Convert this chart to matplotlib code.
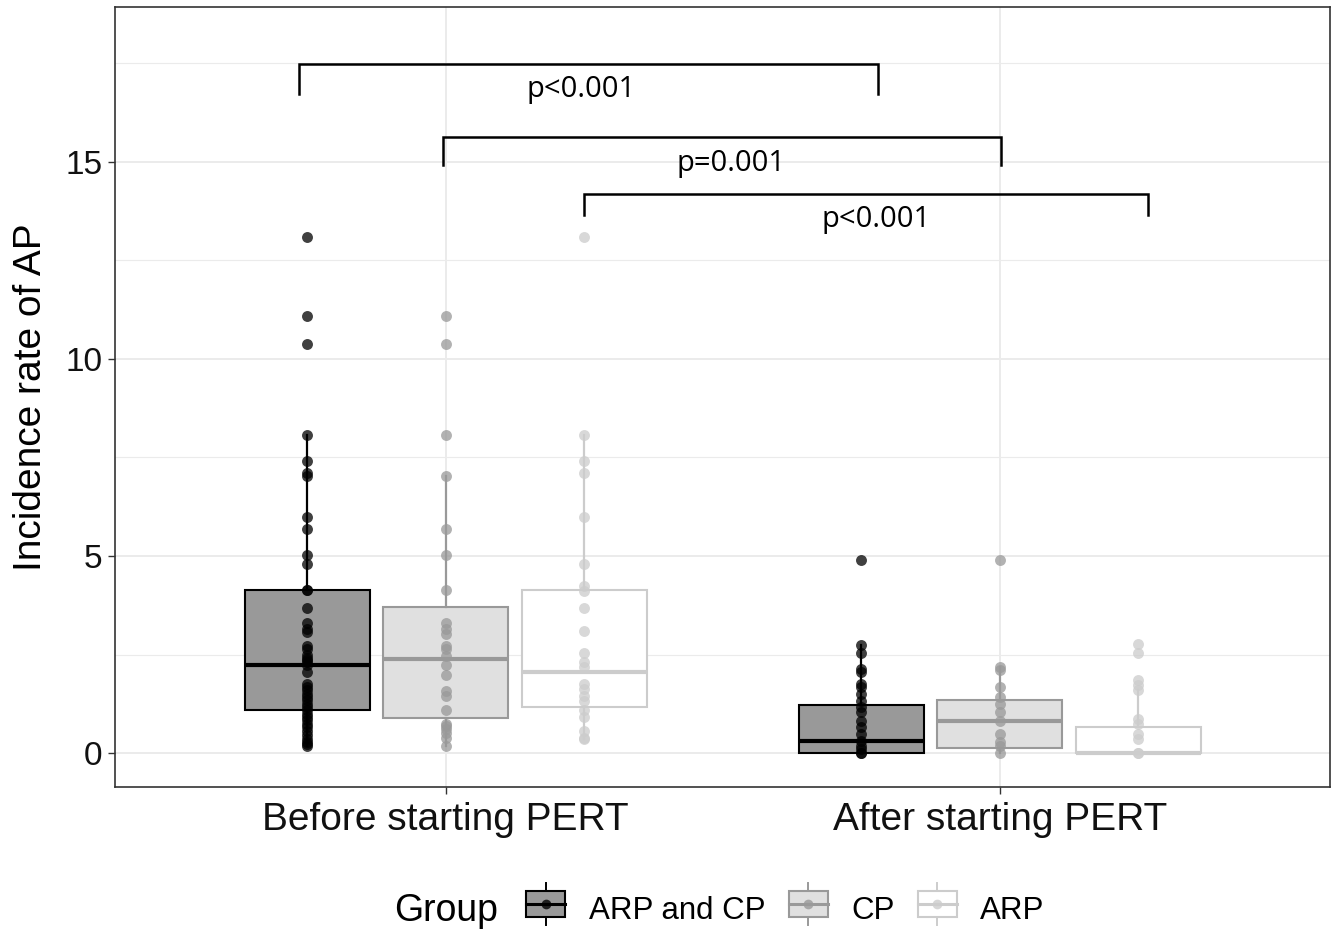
import matplotlib
matplotlib.use("Agg")
import matplotlib.pyplot as plt
from matplotlib.legend_handler import HandlerBase
from matplotlib.patches import Rectangle
from matplotlib.lines import Line2D
import numpy as np

plt.rcParams['font.family'] = ['Liberation Sans', 'DejaVu Sans']

periods = ["Before starting PERT", "After starting PERT"]
groups = ["ARP and CP", "CP", "ARP"]

# raw points, per (period, group)
pts_before_arpcp = [13.1, 11.08, 10.38, 8.06, 7.41, 7.1, 7.04, 5.99, 5.68, 5.03, 4.81,
                    4.15, 4.15, 3.68, 3.29, 3.16, 3.07, 2.72, 2.63, 2.5, 2.42, 2.35, 2.3,
                    2.24, 2.06, 1.75, 1.68, 1.6, 1.5, 1.42, 1.35, 1.25, 1.17, 1.1, 1.0,
                    0.92, 0.85, 0.75, 0.65, 0.55, 0.45, 0.35, 0.28, 0.22, 0.18]
pts_before_cp = [11.08, 10.38, 8.06, 7.04, 5.68, 5.03, 4.15, 3.29, 3.16, 3.03, 2.72,
                 2.63, 2.46, 2.24, 1.99, 1.58, 1.45, 1.10, 0.75, 0.68, 0.61, 0.5, 0.39, 0.18]
pts_before_arp = [13.1, 8.06, 7.41, 7.1, 5.99, 4.81, 4.25, 4.12, 3.68, 3.11, 2.54, 2.32,
                  2.19, 1.75, 1.62, 1.45, 1.32, 1.10, 0.92, 0.57, 0.39, 0.35]
pts_after_arpcp = [4.89, 2.74, 2.54, 2.14, 2.06, 1.76, 1.68, 1.5, 1.33, 1.16, 1.04, 0.82,
                   0.65, 0.48, 0.31, 0.19, 0.1, 0.0, 0.0]
pts_after_cp = [4.89, 2.19, 2.1, 1.68, 1.42, 1.25, 1.04, 0.82, 0.48, 0.27, 0.19, 0.0]
pts_after_arp = [2.76, 2.54, 1.85, 1.72, 1.59, 0.87, 0.74, 0.48, 0.36, 0.0, 0.0]

# box stats (whisker low, q1, median, q3, whisker high)
box_before_arpcp = [0.18, 1.10, 2.24, 4.15, 8.06]
box_before_cp = [0.18, 0.90, 2.39, 3.70, 7.04]
box_before_arp = [0.35, 1.17, 2.06, 4.15, 8.06]
box_after_arpcp = [0.0, 0.0, 0.31, 1.22, 2.74]
box_after_cp = [0.0, 0.14, 0.81, 1.35, 2.19]
box_after_arp = [0.0, 0.0, 0.0, 0.65, 1.59]

points = {
    "ARP and CP": [pts_before_arpcp, pts_after_arpcp],
    "CP": [pts_before_cp, pts_after_cp],
    "ARP": [pts_before_arp, pts_after_arp],
}
boxes = {
    "ARP and CP": [box_before_arpcp, box_after_arpcp],
    "CP": [box_before_cp, box_after_cp],
    "ARP": [box_before_arp, box_after_arp],
}

# significance brackets
brk_left = [0.736, 0.995, 1.249]
brk_right = [1.78, 2.002, 2.267]
brk_top = [17.49, 15.63, 14.19]
brk_tip = [16.72, 14.92, 13.65]
brk_label = ["p<0.001", "p=0.001", "p<0.001"]
brk_label_x = [1.245, 1.515, 1.776]
brk_label_y = [16.83, 14.97, 13.53]

fills = {"ARP and CP": "#999999", "CP": "#e0e0e0", "ARP": "#ffffff"}
edges = {"ARP and CP": "#000000", "CP": "#999999", "ARP": "#cccccc"}
dots = {"ARP and CP": "#000000", "CP": "#999999", "ARP": "#cccccc"}

dodge = {"ARP and CP": -0.25, "CP": 0.0, "ARP": 0.25}
width = 0.225

fig = plt.figure(figsize=(13.42, 9.34), dpi=100)
ax = fig.add_axes([0.0857, 0.1574, 0.9053, 0.8351])

for g in groups:
    stats = []
    for b in boxes[g]:
        lo, q1, med, q3, hi = b
        stats.append(dict(whislo=lo, q1=q1, med=med, q3=q3, whishi=hi))
    pos = [i + 1 + dodge[g] for i in range(len(periods))]
    ax.bxp(stats, positions=pos, widths=width, patch_artist=True,
           showfliers=False, showcaps=False,
           boxprops=dict(facecolor=fills[g], edgecolor=edges[g], linewidth=1.5),
           whiskerprops=dict(color=edges[g], linewidth=1.6),
           medianprops=dict(color=edges[g], linewidth=3.0, solid_capstyle='butt'),
           zorder=2)
    for i, vals in enumerate(points[g]):
        ax.scatter(np.full(len(vals), pos[i]), vals, s=62, color=dots[g],
                   alpha=0.75, linewidths=0, zorder=3)

for xl, xr, yt, yb, lab, lx, ly in zip(brk_left, brk_right, brk_top, brk_tip,
                                       brk_label, brk_label_x, brk_label_y):
    ax.plot([xl, xl, xr, xr], [yb, yt, yt, yb], color="black", lw=1.8,
            solid_joinstyle='miter', zorder=4)
    ax.text(lx, ly, lab, ha="center", va="center", fontsize=21,
            family=["Open Sans", "DejaVu Sans"], zorder=5)

ax.set_xlim(0.403, 2.596)
ax.set_ylim(-0.86, 18.93)
ax.set_xticks([1, 2])
ax.set_xticklabels(periods)
ax.set_yticks([0, 5, 10, 15])
ax.set_yticks([2.5, 7.5, 12.5, 17.5], minor=True)
ax.grid(which="major", color="#ebebeb", lw=1.4, zorder=0)
ax.grid(which="minor", axis="y", color="#ebebeb", lw=0.8, zorder=0)
ax.set_axisbelow(True)
ax.tick_params(axis="both", which="major", labelsize=24, length=5, width=1,
               color="#333333", labelcolor="#111111", pad=4)
ax.tick_params(axis="x", labelsize=28, pad=6)
ax.tick_params(which="minor", length=0)
for s in ax.spines.values():
    s.set_color("#333333")
    s.set_linewidth(1.2)
ax.set_ylabel("Incidence rate of AP", fontsize=28, labelpad=12)


class BoxKey(HandlerBase):
    def __init__(self, face, edge):
        super().__init__()
        self.face = face
        self.edge = edge

    def create_artists(self, legend, orig_handle, xd, yd, w, h, fontsize, trans):
        cx = xd + w / 2
        cy = yd + h / 2
        rect = Rectangle((xd, yd), w, h, facecolor=self.face,
                         edgecolor=self.edge, lw=1.5, transform=trans)
        wl = Line2D([cx, cx], [yd - h * 0.3, yd + h * 1.3], color=self.edge,
                    lw=1.4, transform=trans)
        md = Line2D([xd, xd + w], [cy, cy], color=self.edge, lw=2.2, transform=trans)
        dt = Line2D([cx], [cy], marker="o", ms=7, color=self.edge, mec="none",
                    alpha=0.8, transform=trans)
        return [wl, rect, md, dt]


handles = [Rectangle((0, 0), 1, 1) for _ in groups]
hmap = {h: BoxKey(fills[g], edges[g]) for h, g in zip(handles, groups)}
leg = fig.legend(handles, groups, handler_map=hmap, loc="center left",
                 bbox_to_anchor=(0.392, 0.025), ncol=3, frameon=False, fontsize=22.5,
                 handlelength=1.25, handleheight=0.9, handletextpad=0.75,
                 columnspacing=0.75, borderpad=0, borderaxespad=0)
fig.text(0.294, 0.025, "Group", fontsize=27, ha="left", va="center")

fig.savefig("out.png", dpi=100)
